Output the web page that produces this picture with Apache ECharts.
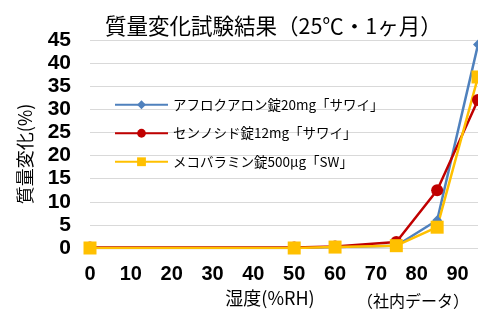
<!DOCTYPE html>
<html>
<head>
<meta charset="utf-8">
<script src="https://cdn.jsdelivr.net/npm/echarts@6/dist/echarts.min.js"></script>
<style>
  html, body { margin: 0; padding: 0; background: #fff; }
  #chartDom { width: 478px; height: 309px; }
</style>
</head>
<body>
<div id="chartDom"></div>
<script>
// 湿度(%RH)
const humidity = [0, 50, 60, 75, 85, 95];
// 質量変化(%)
const afuroqualon = [0, 0, 0.2, 0.5, 6, 44];
const sennoside = [0.1, 0.1, 0.3, 1.3, 12.5, 32];
const mecobalamin = [0, 0, 0.2, 0.5, 4.5, 37];
const seriesNames = ["アフロクアロン錠20mg「サワイ」", "センノシド錠12mg「サワイ」", "メコバラミン錠500μg「SW」"];

const jp = "'Noto Sans CJK JP', 'Liberation Sans', sans-serif";
const num = "'Liberation Sans', Arial, sans-serif";

function pairs(vals) {
  return humidity.map((h, i) => [h, vals[i]]);
}

let myChart = echarts.init(document.getElementById("chartDom"));
myChart.setOption({
  animation: false,
  title: {
    text: "質量変化試験結果（25℃・1ヶ月）",
    left: 100,
    top: 10,
    textStyle: { fontFamily: jp, fontSize: 21.5, fontWeight: "normal", color: "#000" }
  },
  grid: { left: 90, right: 0, top: 40, bottom: 61, outerBoundsMode: "none" },
  legend: {
    orient: "vertical",
    left: 109,
    top: 93,
    itemWidth: 53,
    itemHeight: 11,
    itemGap: 15,
    textStyle: { fontFamily: jp, fontSize: 13.5, color: "#000" },
    data: seriesNames
  },
  xAxis: {
    type: "value",
    min: 0,
    max: 95,
    interval: 10,
    name: "湿度(%RH)",
    nameLocation: "middle",
    nameGap: 36,
    nameTextStyle: { fontFamily: jp, fontSize: 18, color: "#000", padding: [0, 28, 0, 0] },
    axisLine: { show: false },
    axisTick: { show: false },
    splitLine: { show: false },
    axisLabel: { showMaxLabel: false, margin: 16, fontFamily: num, fontSize: 20, fontWeight: "bold", color: "#000" }
  },
  yAxis: {
    type: "value",
    min: 0,
    max: 45,
    interval: 5,
    axisLine: { show: false },
    axisTick: { show: false },
    splitLine: { lineStyle: { color: "#d9d9d9", width: 1 } },
    axisLabel: { margin: 19, fontFamily: num, fontSize: 21, fontWeight: "bold", color: "#000" }
  },
  graphic: [
    {
      type: "text", x: 25, y: 154, rotation: Math.PI / 2,
      style: { text: "質量変化(%)", fontFamily: jp, fontSize: 18, fill: "#000", align: "center", verticalAlign: "middle" }
    },
    {
      type: "text", x: 413, y: 301,
      style: { text: "（社内データ）", fontFamily: jp, fontSize: 16, fill: "#000", align: "center", verticalAlign: "middle" }
    }
  ],
  series: [
    {
      name: seriesNames[0],
      type: "line",
      data: pairs(afuroqualon),
      symbol: "diamond",
      symbolSize: 10,
      lineStyle: { color: "#4f81bd", width: 2.5 },
      itemStyle: { color: "#4f81bd" }
    },
    {
      name: seriesNames[1],
      type: "line",
      data: pairs(sennoside),
      symbol: "circle",
      symbolSize: 12,
      lineStyle: { color: "#c00000", width: 2.5 },
      itemStyle: { color: "#c00000" }
    },
    {
      name: seriesNames[2],
      type: "line",
      data: pairs(mecobalamin),
      symbol: "rect",
      symbolSize: 13,
      lineStyle: { color: "#ffc000", width: 2.5 },
      itemStyle: { color: "#ffc000" }
    }
  ]
});
</script>
</body>
</html>
